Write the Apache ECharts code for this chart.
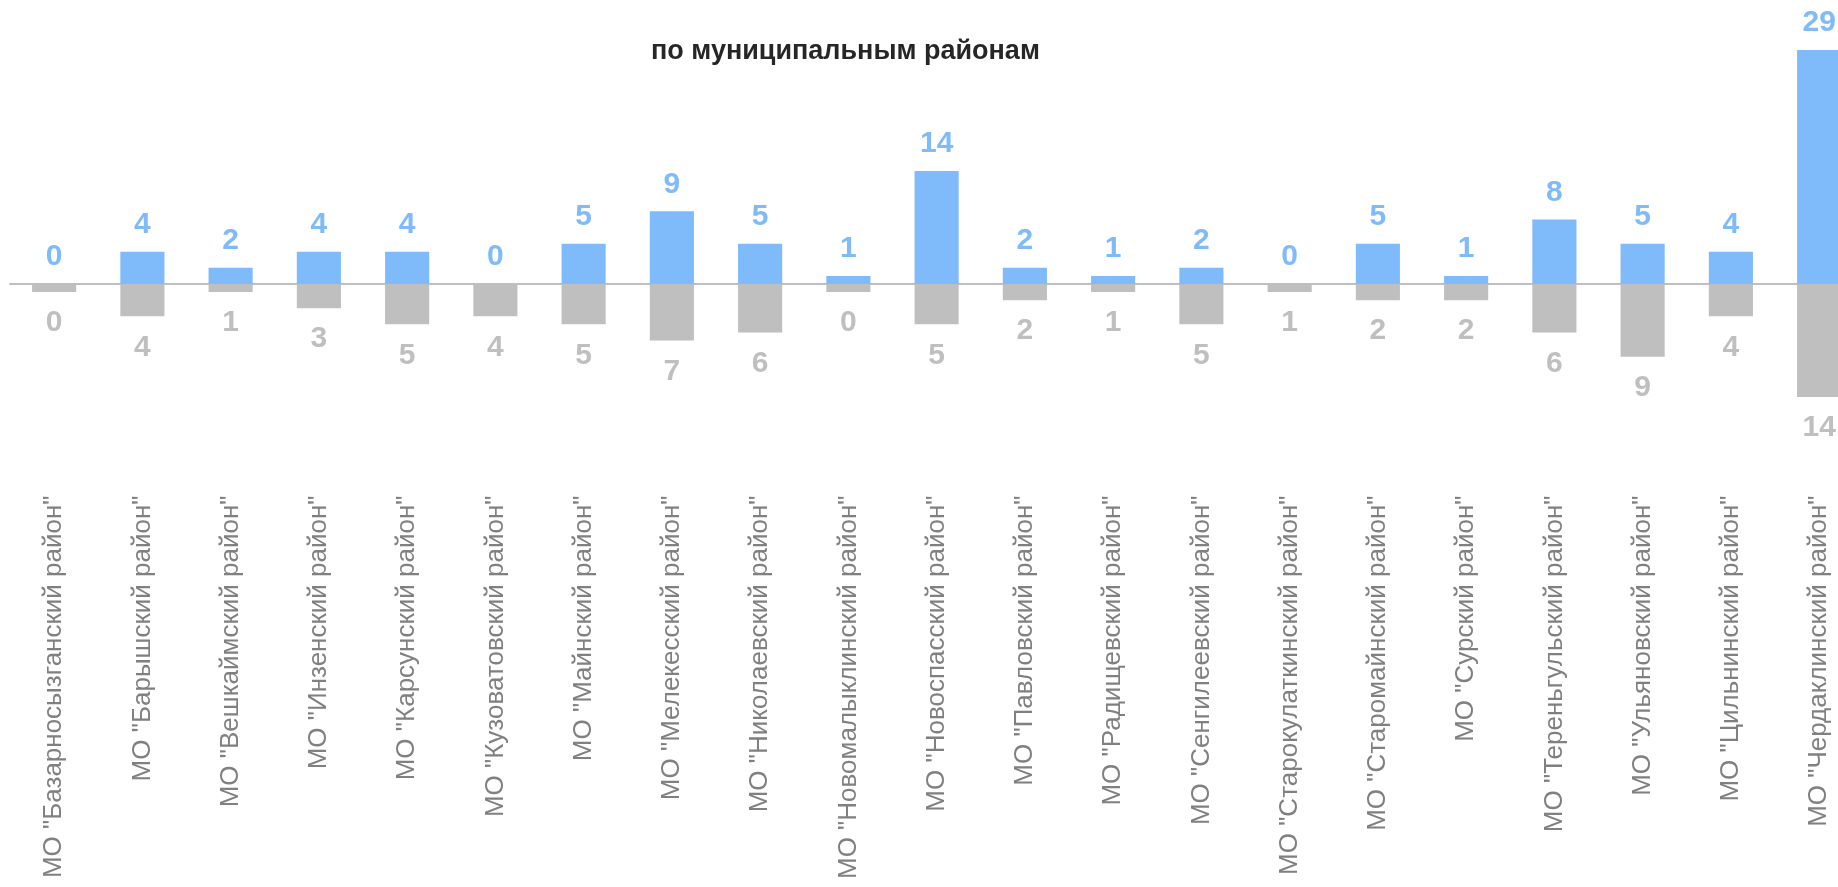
<!DOCTYPE html>
<html>
<head>
<meta charset="utf-8">
<script src="https://cdn.jsdelivr.net/npm/echarts@6/dist/echarts.min.js"></script>
<style>
html,body{margin:0;padding:0;background:#fff;}
#chart{width:1838px;height:887px;}
</style>
</head>
<body>
<div id="chart"></div>
<script>
const titleText = 'по муниципальным районам';
const categories = [
  'МО "Базарносызганский район"',
  'МО "Барышский район"',
  'МО "Вешкаймский район"',
  'МО "Инзенский район"',
  'МО "Карсунский район"',
  'МО "Кузоватовский район"',
  'МО "Майнский район"',
  'МО "Мелекесский район"',
  'МО "Николаевский район"',
  'МО "Новомалыклинский район"',
  'МО "Новоспасский район"',
  'МО "Павловский район"',
  'МО "Радищевский район"',
  'МО "Сенгилеевский район"',
  'МО "Старокулаткинский район"',
  'МО "Старомайнский район"',
  'МО "Сурский район"',
  'МО "Тереньгульский район"',
  'МО "Ульяновский район"',
  'МО "Цильнинский район"',
  'МО "Чердаклинский район"'
];
const blueValues = [0, 4, 2, 4, 4, 0, 5, 9, 5, 1, 14, 2, 1, 2, 0, 5, 1, 8, 5, 4, 29];
// grey bar heights as drawn, and the labels printed under them
const greyBars   = [1, 4, 1, 3, 5, 4, 5, 7, 6, 1, 5, 2, 1, 5, 1, 2, 2, 6, 9, 4, 14];
const greyLabels = [0, 4, 1, 3, 5, 4, 5, 7, 6, 0, 5, 2, 1, 5, 1, 2, 2, 6, 9, 4, 14];

const BLUE = '#7fbbfa';
const GREY = '#bfbfbf';
const FONT = '"Liberation Sans", Arial, sans-serif';

const chart = echarts.init(document.getElementById('chart'), null, {renderer: 'canvas'});
const pxPerUnit = 8.07;
const zeroY = 284;
const yMax = 30, yMin = -20;

chart.setOption({
  animation: false,
  backgroundColor: '#ffffff',
  title: {
    text: titleText,
    left: 646,
    top: 33,
    textStyle: {fontFamily: FONT, fontSize: 27, fontWeight: 'bold', color: '#262626'}
  },
  grid: {
    left: 10,
    top: zeroY - yMax * pxPerUnit,
    width: 21 * 88.25,
    height: (yMax - yMin) * pxPerUnit,
    containLabel: false,
    outerBoundsMode: 'none'
  },
  xAxis: {
    type: 'category',
    data: categories,
    axisLine: {onZero: true, lineStyle: {color: GREY, width: 2}},
    axisTick: {show: false},
    axisLabel: {
      rotate: 90,
      interval: 0,
      margin: 50,
      hideOverlap: false,
      fontFamily: FONT,
      fontSize: 26,
      color: '#808080'
    }
  },
  yAxis: {
    type: 'value',
    min: yMin,
    max: yMax,
    show: false,
    splitLine: {show: false}
  },
  series: [
    {
      type: 'bar',
      data: blueValues,
      barWidth: '50%',
      barGap: '-100%',
      itemStyle: {color: BLUE},
      label: {
        show: true,
        position: 'top',
        distance: 12,
        fontFamily: FONT,
        fontSize: 30,
        fontWeight: 'bold',
        color: BLUE
      }
    },
    {
      type: 'bar',
      data: greyBars.map(v => -v),
      barWidth: '50%',
      barGap: '-100%',
      itemStyle: {color: GREY},
      label: {
        show: true,
        position: 'bottom',
        distance: 16,
        fontFamily: FONT,
        fontSize: 30,
        fontWeight: 'bold',
        color: GREY,
        formatter: p => String(greyLabels[p.dataIndex])
      }
    }
  ]
});
</script>
</body>
</html>
